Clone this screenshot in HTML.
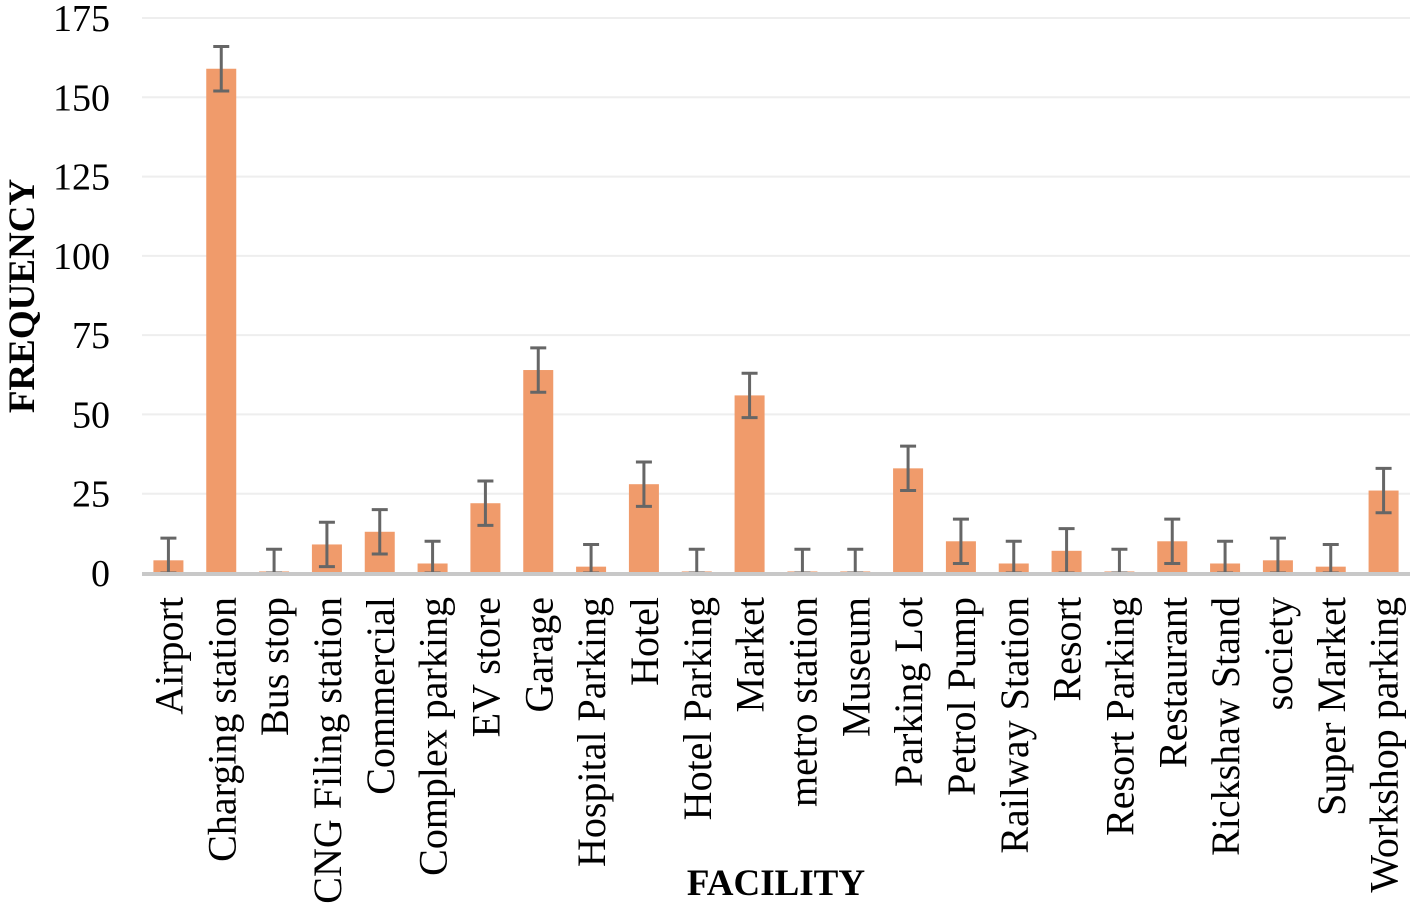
<!DOCTYPE html>
<html><head><meta charset="utf-8"><style>
body{margin:0;background:#fff;}
svg text{font-family:"Liberation Serif",serif;fill:#000;}
</style></head><body>
<svg width="1417" height="906" viewBox="0 0 1417 906">
<g id="grid"></g><g id="bars"></g><g id="labels"></g>
<text x="776" y="895" font-size="37" font-weight="bold" text-anchor="middle">FACILITY</text>
<text transform="translate(34,296) rotate(-90)" font-size="37" font-weight="bold" text-anchor="middle">FREQUENCY</text>
</svg>
<script>
const categories=["Airport","Charging station","Bus stop","CNG Filing station","Commercial","Complex parking","EV store","Garage","Hospital Parking","Hotel","Hotel Parking","Market","metro station","Museum","Parking Lot","Petrol Pump","Railway Station","Resort","Resort Parking","Restaurant","Rickshaw Stand","society","Super Market","Workshop parking"];
const values=[4,159,0.5,9,13,3,22,64,2,28,0.5,56,0.5,0.5,33,10,3,7,0.5,10,3,4,2,26];
const errors=[7,7,7,7,7,7,7,7,7,7,7,7,7,7,7,7,7,7,7,7,7,7,7,7];
const yTicks=[0,25,50,75,100,125,150,175];
const NS="http://www.w3.org/2000/svg";
const x0=142,x1=1410,y0=573,yTop=18,ymax=175;
const band=(x1-x0)/categories.length;
const y=v=>y0-(v/ymax)*(y0-yTop);
const xc=i=>x0+band*(i+0.5);
function mk(t,a,p){const e=document.createElementNS(NS,t);for(const k in a)e.setAttribute(k,a[k]);p.appendChild(e);return e;}
const g=document.getElementById('grid'),b=document.getElementById('bars'),l=document.getElementById('labels');
yTicks.forEach(t=>{
 if(t>0){const ln=mk('line',{x1:x0,x2:x1,y1:y(t),y2:y(t),stroke:'#eeeeee','stroke-width':2},g);
 
 }
 const tx=mk('text',{x:110,y:y(t)+13,'font-size':38,'text-anchor':'end'},g);tx.textContent=t;
 
 
});
categories.forEach((c,i)=>{
 const cx=xc(i),w=30;
 const r=mk('rect',{x:cx-w/2,y:y(values[i]),width:w,height:y0-y(values[i]),fill:'#f09b6b'},b);
 
 
 const lo=Math.max(0,values[i]-errors[i]),hi=values[i]+errors[i];
 const eg=mk('g',{stroke:'#666','stroke-width':3},b);
 
 
 mk('line',{x1:cx,x2:cx,y1:y(hi),y2:y(lo)},eg);
 mk('line',{x1:cx-8,x2:cx+8,y1:y(hi),y2:y(hi)},eg);
 mk('line',{x1:cx-8,x2:cx+8,y1:y(lo),y2:y(lo)},eg);
 const tx=mk('text',{transform:`translate(${cx+14},597) rotate(-90)`,'font-size':40,'text-anchor':'end'},l);
 tx.textContent=c;
 
 
});
const ax=mk('line',{x1:x0,x2:x1,y1:y0+1,y2:y0+1,stroke:'#c8c8c8','stroke-width':4},b);


</script>
</body></html>
